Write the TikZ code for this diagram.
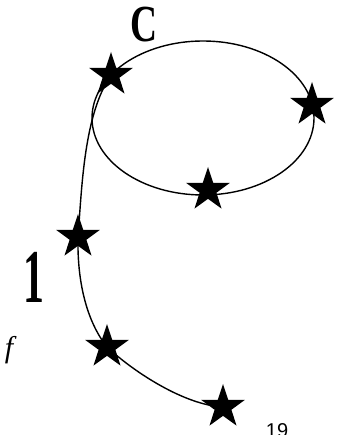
\documentclass[tikz,border=0pt]{standalone}
\usepackage{xcolor}
\usepackage{amsmath}
\usepackage{graphicx}
\usepackage{fontspec}
\usepackage{tikz}
\usetikzlibrary{shapes.geometric}

\newfontfamily\serifrot{Liberation Serif}
\newfontfamily\sansrot{Liberation Sans}

\tikzset{
  estrela/.style={shape=star, star points=5, star point ratio=2.6,
    minimum size=46pt, inner sep=0pt, fill=black, draw=none},
  linha/.style={line width=1.4pt}
}

\begin{document}
\begin{tikzpicture}[x=1pt, y=1pt]

% Moldura
\useasboundingbox (0,0) rectangle (338,435);
\clip (0,0) rectangle (338,435);

% Elipse
\coordinate (centro) at (203,317);
\draw[linha] (centro) ellipse [x radius=111, y radius=77];

% Estrelas
\node[estrela] (s1) at (111,360) {};
\node[estrela] (s2) at (312,330) {};
\node[estrela] (s3) at (208,245) {};
\node[estrela] (s4) at (78,198) {};
\node[estrela] (s5) at (107,88) {};
\node[estrela] (s6) at (223,28) {};

% Cauda
\draw[linha] (s1.center) .. controls (84,320) and (82,250) .. (s4.center);
\draw[linha] (s4.center) .. controls (77,150) and (88,112) .. (s5.center);
\draw[linha] (s5.center) .. controls (135,62) and (185,30) .. (s6.center);

% Textos
\node[inner sep=0pt] (rotC) at (144.5,410) {\scalebox{0.72}[1]{\fontsize{52}{52}\selectfont\serifrot\bfseries C}};
\node[inner sep=0pt] (rot1) at (33.5,157.5) {\scalebox{0.55}[1]{\fontsize{76}{76}\selectfont\serifrot\bfseries 1}};
\node[inner sep=0pt] (rotf) at (9,85) {\fontsize{30}{30}\selectfont\serifrot\itshape f};
\node[inner sep=0pt, anchor=north] (rot19) at (277,12) {\fontsize{20}{20}\selectfont\sansrot 19};

\end{tikzpicture}
\end{document}
